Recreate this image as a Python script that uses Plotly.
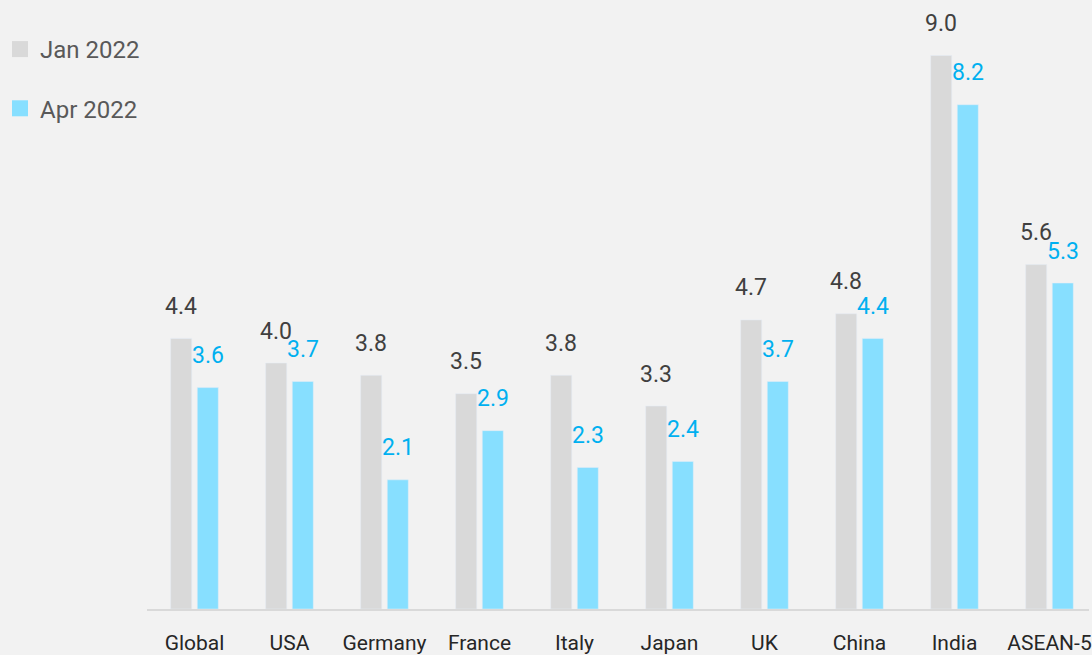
import plotly.graph_objects as go

categories = ["Global", "USA", "Germany", "France", "Italy", "Japan", "UK", "China", "India", "ASEAN-5"]
jan_2022 = [4.4, 4.0, 3.8, 3.5, 3.8, 3.3, 4.7, 4.8, 9.0, 5.6]
apr_2022 = [3.6, 3.7, 2.1, 2.9, 2.3, 2.4, 3.7, 4.4, 8.2, 5.3]
series_names = ["Jan 2022", "Apr 2022"]

GREY = "#d9d9d9"
CYAN = "#87dfff"
GREY_TXT = "#404040"
CYAN_TXT = "#00b0f0"
FONT = "Roboto"

fig = go.Figure()
fig.add_trace(go.Bar(x=categories, y=jan_2022, name=series_names[0], marker_color=GREY,
                     showlegend=False, hoverinfo="skip"))
fig.add_trace(go.Bar(x=categories, y=apr_2022, name=series_names[1], marker_color=CYAN,
                     showlegend=False, hoverinfo="skip"))

# legend proxies (larger square symbols)
for nm, col, grp in [(series_names[0], GREY, "a"), (series_names[1], CYAN, "b")]:
    fig.add_trace(go.Scatter(x=[None], y=[None], mode="markers", name=nm, legendgroup=grp,
                             marker=dict(symbol="square", size=18, color=col)))

# value labels
for vals, shift, col in [(jan_2022, -13.3, GREY_TXT), (apr_2022, 13.3, CYAN_TXT)]:
    for c, v in zip(categories, vals):
        fig.add_annotation(x=c, y=v, text=f"{v:.1f}", showarrow=False, xref="x", yref="y",
                           xshift=shift, yshift=32, yanchor="middle", xanchor="center",
                           font=dict(family=FONT, size=23, color=col))

fig.update_layout(
    width=1092, height=655,
    margin=dict(l=147, r=0, t=0, b=45),
    paper_bgcolor="#f2f2f2", plot_bgcolor="#f2f2f2",
    barmode="group", bargap=0.44, bargroupgap=0.21,
    font=dict(family=FONT),
    legend=dict(xref="container", yref="container", x=0, y=1 - 27 / 655,
                xanchor="left", yanchor="top", bgcolor="rgba(0,0,0,0)",
                font=dict(family=FONT, size=24, color="#595959"),
                tracegroupgap=25, itemwidth=30),
    xaxis=dict(range=[-0.5, 9.416], showgrid=False, zeroline=False, showline=True,
               linecolor=GREY, linewidth=2, ticks="", ticklabelstandoff=14,
               tickfont=dict(family=FONT, size=21, color="#262626"), fixedrange=True),
    yaxis=dict(range=[0, 610 / 61.6], visible=False, showgrid=False, zeroline=False,
               fixedrange=True),
)

fig.write_html("out.html", config={"displayModeBar": False},
               post_script="document.body.style.margin='0';document.body.style.background='#f2f2f2';")
